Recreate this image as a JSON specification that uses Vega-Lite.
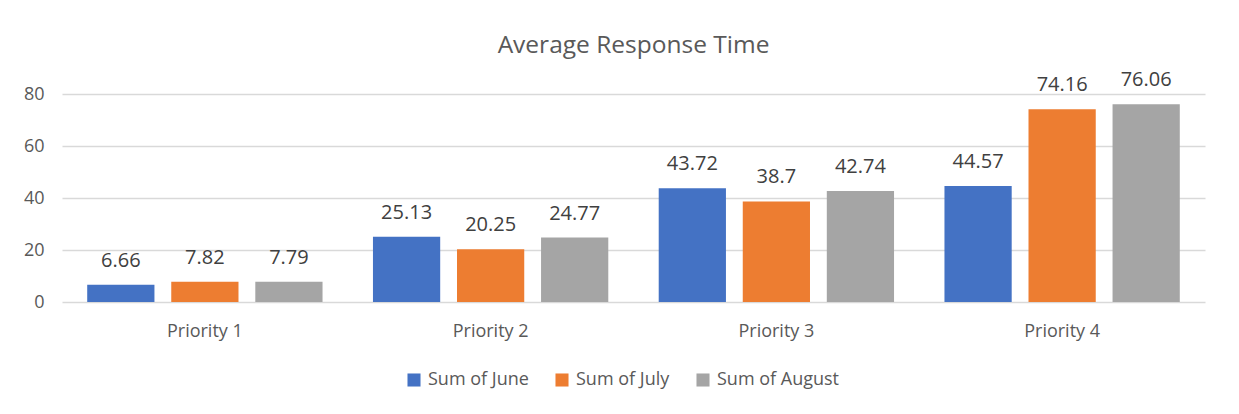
{
  "$schema": "https://vega.github.io/schema/vega-lite/v6.json",
  "width": 1143,
  "height": 208,
  "autosize": "none",
  "padding": {"left": 62, "top": 94, "right": 34, "bottom": 112},
  "background": "white",
  "title": {"text": "Average Response Time", "fontSize": 24.5, "font": "Open Sans", "fontWeight": "normal", "color": "#595959", "offset": 12, "anchor": "middle"},
  "data": {"values": [
    {"priority": "Priority 1", "series": "Sum of June", "value": 6.66},
    {"priority": "Priority 1", "series": "Sum of July", "value": 7.82},
    {"priority": "Priority 1", "series": "Sum of August", "value": 7.79},
    {"priority": "Priority 2", "series": "Sum of June", "value": 25.13},
    {"priority": "Priority 2", "series": "Sum of July", "value": 20.25},
    {"priority": "Priority 2", "series": "Sum of August", "value": 24.77},
    {"priority": "Priority 3", "series": "Sum of June", "value": 43.72},
    {"priority": "Priority 3", "series": "Sum of July", "value": 38.7},
    {"priority": "Priority 3", "series": "Sum of August", "value": 42.74},
    {"priority": "Priority 4", "series": "Sum of June", "value": 44.57},
    {"priority": "Priority 4", "series": "Sum of July", "value": 74.16},
    {"priority": "Priority 4", "series": "Sum of August", "value": 76.06}
  ]},
  "encoding": {
    "x": {"field": "priority", "type": "nominal", "title": null,
      "scale": {"paddingInner": 0, "paddingOuter": 0},
      "axis": {"labelAngle": 0, "ticks": false, "domain": false, "labelFont": "Open Sans", "labelFontSize": 18, "labelColor": "#595959", "labelPadding": 20}},
    "xOffset": {"field": "series", "type": "nominal", "sort": ["Sum of June", "Sum of July", "Sum of August"],
      "scale": {"paddingInner": 0.2, "paddingOuter": 0.3}},
    "y": {"field": "value", "type": "quantitative", "title": null,
      "scale": {"domain": [0, 80], "nice": false},
      "axis": {"values": [0, 20, 40, 60, 80], "ticks": false, "domain": false, "gridColor": "#d9d9d9", "gridWidth": 1.5, "labelFont": "Open Sans", "labelFontSize": 18, "labelColor": "#595959", "labelPadding": 18}}
  },
  "layer": [
    {"mark": {"type": "bar"},
      "encoding": {"color": {"field": "series", "type": "nominal", "sort": ["Sum of June", "Sum of July", "Sum of August"],
        "scale": {"domain": ["Sum of June", "Sum of July", "Sum of August"], "range": ["#4472C4", "#ED7D31", "#A5A5A5"]},
        "legend": {"title": null, "orient": "none", "direction": "horizontal", "legendX": 343, "legendY": 277, "symbolType": "square", "symbolSize": 170, "symbolStrokeWidth": 0, "labelFont": "Open Sans", "labelFontSize": 18, "labelColor": "#595959", "columnPadding": 24, "labelOffset": 5}}}},
    {"mark": {"type": "text", "baseline": "alphabetic", "dy": -18, "font": "Open Sans", "fontSize": 20, "color": "#404040"},
      "encoding": {"text": {"field": "value", "type": "quantitative"}}}
  ],
  "config": {"view": {"stroke": null}}
}
